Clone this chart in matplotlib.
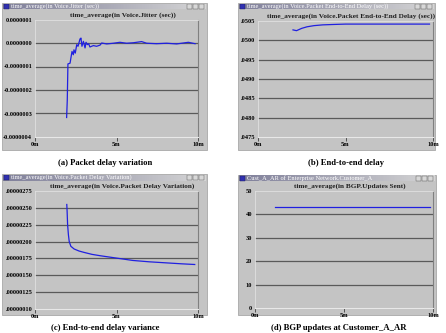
import matplotlib
matplotlib.use("Agg")
import matplotlib.pyplot as plt
import numpy as np
from matplotlib.patches import Rectangle
from matplotlib.colors import LinearSegmentedColormap

# ---------------- data ----------------
# (a) Voice jitter, time in minutes, value in seconds
a_t = [1.94, 1.98, 2.02, 2.15, 2.19, 2.27, 2.35, 2.39, 2.47, 2.56, 2.64, 2.76, 2.82,
       2.88, 2.97, 3.07, 3.13, 3.21, 3.29, 3.37, 3.58, 3.78, 3.99, 4.09, 4.40, 4.81,
       5.21, 5.62, 6.03, 6.54, 6.85, 7.46, 8.08, 8.69, 9.41, 9.82]
a_v = [-3.17e-7, -2.43e-7, -0.89e-7, -0.86e-7, -0.69e-7, -0.36e-7, -0.50e-7, -0.29e-7,
       -0.43e-7, -0.07e-7, -0.14e-7, 0.17e-7, 0.21e-7, -0.14e-7, 0.07e-7, -0.21e-7,
       0.03e-7, -0.07e-7, -0.03e-7, -0.17e-7, -0.11e-7, -0.14e-7, -0.09e-7, 0.0,
       -0.04e-7, -0.01e-7, 0.03e-7, -0.01e-7, 0.01e-7, 0.06e-7, -0.01e-7, -0.03e-7,
       -0.01e-7, -0.04e-7, 0.03e-7, -0.03e-7]
a_yticks = [1e-7, 0.0, -1e-7, -2e-7, -3e-7, -4e-7]
a_ylabels = ["0.0000001", "0.0000000", "-0.0000001", "-0.0000002", "-0.0000003", "-0.0000004"]

# (b) End-to-end delay
b_t = [2.0, 2.1, 2.2, 2.3, 2.5, 2.8, 3.2, 3.7, 4.3, 5.0, 6.0, 7.0, 8.0, 9.0, 9.8]
b_v = [0.05027, 0.05026, 0.05025, 0.05027, 0.05031, 0.05035, 0.05038, 0.05040,
       0.05041, 0.05042, 0.05042, 0.05042, 0.05042, 0.05042, 0.05042]
b_yticks = [0.0505, 0.0500, 0.0495, 0.0490, 0.0485, 0.0480, 0.0475]
b_ylabels = [".0505", ".0500", ".0495", ".0490", ".0485", ".0480", ".0475"]

# (c) Packet delay variation
c_t = [1.95, 1.97, 2.0, 2.05, 2.1, 2.2, 2.4, 2.7, 3.0, 3.5, 4.0, 5.0, 6.0, 7.0, 8.0, 9.0, 9.8]
c_v = [2.55e-6, 2.45e-6, 2.25e-6, 2.10e-6, 2.00e-6, 1.93e-6, 1.89e-6, 1.86e-6, 1.84e-6,
       1.81e-6, 1.79e-6, 1.755e-6, 1.72e-6, 1.70e-6, 1.685e-6, 1.67e-6, 1.66e-6]
c_yticks = [2.75e-6, 2.50e-6, 2.25e-6, 2.00e-6, 1.75e-6, 1.50e-6, 1.25e-6, 1.00e-6]
c_ylabels = [".00000275", ".00000250", ".00000225", ".00000200", ".00000175",
             ".00000150", ".00000125", ".00000010"]

# (d) BGP updates sent
d_t = [1.1, 9.85]
d_v = [43, 43]
d_yticks = [50, 40, 30, 20, 10, 0]
d_ylabels = ["50", "40", "30", "20", "10", "0"]

x_ticks = [0, 5, 10]
x_labels = ["0m", "5m", "10m"]

win_titles = ["time_average(in Voice.Jitter (sec))",
              "time_average(in Voice.Packet End-to-End Delay (sec))",
              "time_average(in Voice.Packet Delay Variation)",
              "Cust_A_AR of Enterprise Network.Customer_A"]
plot_titles = ["time_average(in Voice.Jitter (sec))",
               "time_average(in Voice.Packet End-to-End Delay (sec))",
               "time_average(in Voice.Packet Delay Variation)",
               "time_average(in BGP.Updates Sent)"]
captions = ["(a) Packet delay variation", "(b) End-to-end delay",
            "(c) End-to-end delay variance", "(d) BGP updates at Customer_A_AR"]

# ---------------- layout ----------------
W, H = 446, 333
fig = plt.figure(figsize=(W / 100, H / 100), dpi=100)
fig.patch.set_facecolor("white")

SERIF = ["Liberation Serif", "DejaVu Serif"]
WIN_GRAY = "#c4c4c4"
GRID = "#5a5a5a"
LINE = "#2020e0"


def fx(x):
    return x / W


def fy(y):
    return 1 - y / H


def rect_axes(x0, y0, x1, y1):
    return [fx(x0), fy(y1), fx(x1) - fx(x0), fy(y0) - fy(y1)]


cmap = LinearSegmentedColormap.from_list("tb", ["#7f7f9a", "#a9a9b6", "#d6d6d6"])

panels = [
    dict(win=(2, 3, 207, 150), tb=6.5, ax=(35, 19.5, 198, 137), cap=(105, 163),
         t=a_t, v=a_v, yt=a_yticks, yl=a_ylabels),
    dict(win=(238, 3, 435, 150), tb=6.5, ax=(258, 21, 433, 137), cap=(346, 163),
         t=b_t, v=b_v, yt=b_yticks, yl=b_ylabels),
    dict(win=(2, 174, 207, 315), tb=6.5, ax=(35, 191, 198, 309), cap=(105, 328),
         t=c_t, v=c_v, yt=c_yticks, yl=c_ylabels),
    dict(win=(238, 175, 436, 315), tb=6.5, ax=(255, 191, 433, 308), cap=(339, 328),
         t=d_t, v=d_v, yt=d_yticks, yl=d_ylabels),
]

for i, p in enumerate(panels):
    x0, y0, x1, y1 = p["win"]
    # window background
    fig.patches.append(Rectangle((fx(x0), fy(y1)), fx(x1) - fx(x0), fy(y0) - fy(y1),
                                 transform=fig.transFigure, facecolor=WIN_GRAY,
                                 edgecolor="#a8a8a8", linewidth=0.6, zorder=0))
    # title bar gradient
    tb = fig.add_axes(rect_axes(x0 + 1, y0 + 0.5, x1 - 1, y0 + p["tb"]), zorder=1)
    tb.imshow(np.linspace(0, 1, 200)[None, :], cmap=cmap, aspect="auto",
              extent=(0, 1, 0, 1))
    tb.set_xlim(0, 1)
    tb.set_ylim(0, 1)
    tb.axis("off")
    wpx = x1 - x0 - 2
    # icon
    tb.add_patch(Rectangle((0.005, 0.1), 5 / wpx, 0.8, facecolor="#3030b0",
                           edgecolor="#202060", linewidth=0.3))
    tb.text(0.005 + 7 / wpx, 0.5, win_titles[i], color="white", fontsize=4.6,
            family=SERIF, va="center", ha="left")
    # window buttons
    for k in range(3):
        bx = 1 - (3 - k) * 6 / wpx - 0.005
        tb.add_patch(Rectangle((bx, 0.08), 5 / wpx, 0.84, facecolor="#d8d8d8",
                               edgecolor="#505050", linewidth=0.3))
    # plot axes
    ax0, ay0, ax1, ay1 = p["ax"]
    ax = fig.add_axes(rect_axes(ax0, ay0, ax1, ay1), zorder=2)
    ax.set_facecolor(WIN_GRAY)
    ax.set_xlim(0, 10)
    ax.set_ylim(p["yt"][-1], p["yt"][0])
    for yv in p["yt"][1:-1]:
        ax.axhline(yv, color=GRID, linewidth=0.9, zorder=1)
    ax.plot(p["t"], p["v"], color=LINE, linewidth=0.9, zorder=3)
    ax.set_yticks(p["yt"])
    ax.set_yticklabels(p["yl"], fontsize=4.6, family=SERIF, fontweight="bold")
    ax.set_xticks(x_ticks)
    ax.set_xticklabels(x_labels, fontsize=4.6, family=SERIF, fontweight="bold")
    ax.tick_params(axis="y", length=0, pad=2)
    ax.tick_params(axis="x", length=3, width=0.6, color="#404040", pad=0.5,
                   direction="out")
    for s in ["top", "left"]:
        ax.spines[s].set_color("#e0e0e0")
        ax.spines[s].set_linewidth(0.6)
    ax.spines["right"].set_color("#808080")
    ax.spines["right"].set_linewidth(0.8)
    ax.spines["bottom"].set_color("#e8e8e8")
    ax.spines["bottom"].set_linewidth(0.8)
    # plot title
    fig.text(fx((ax0 + ax1) / 2 + 6), fy(ay0 - 4.5), plot_titles[i], fontsize=5.2,
             family=SERIF, fontweight="bold", ha="center", va="center",
             color="#202020", zorder=5)
    # caption
    fig.text(fx(p["cap"][0]), fy(p["cap"][1]), captions[i], fontsize=6.2,
             family=SERIF, fontweight="bold", ha="center", va="center", color="black")

fig.savefig("out.png", dpi=100, facecolor="white")
